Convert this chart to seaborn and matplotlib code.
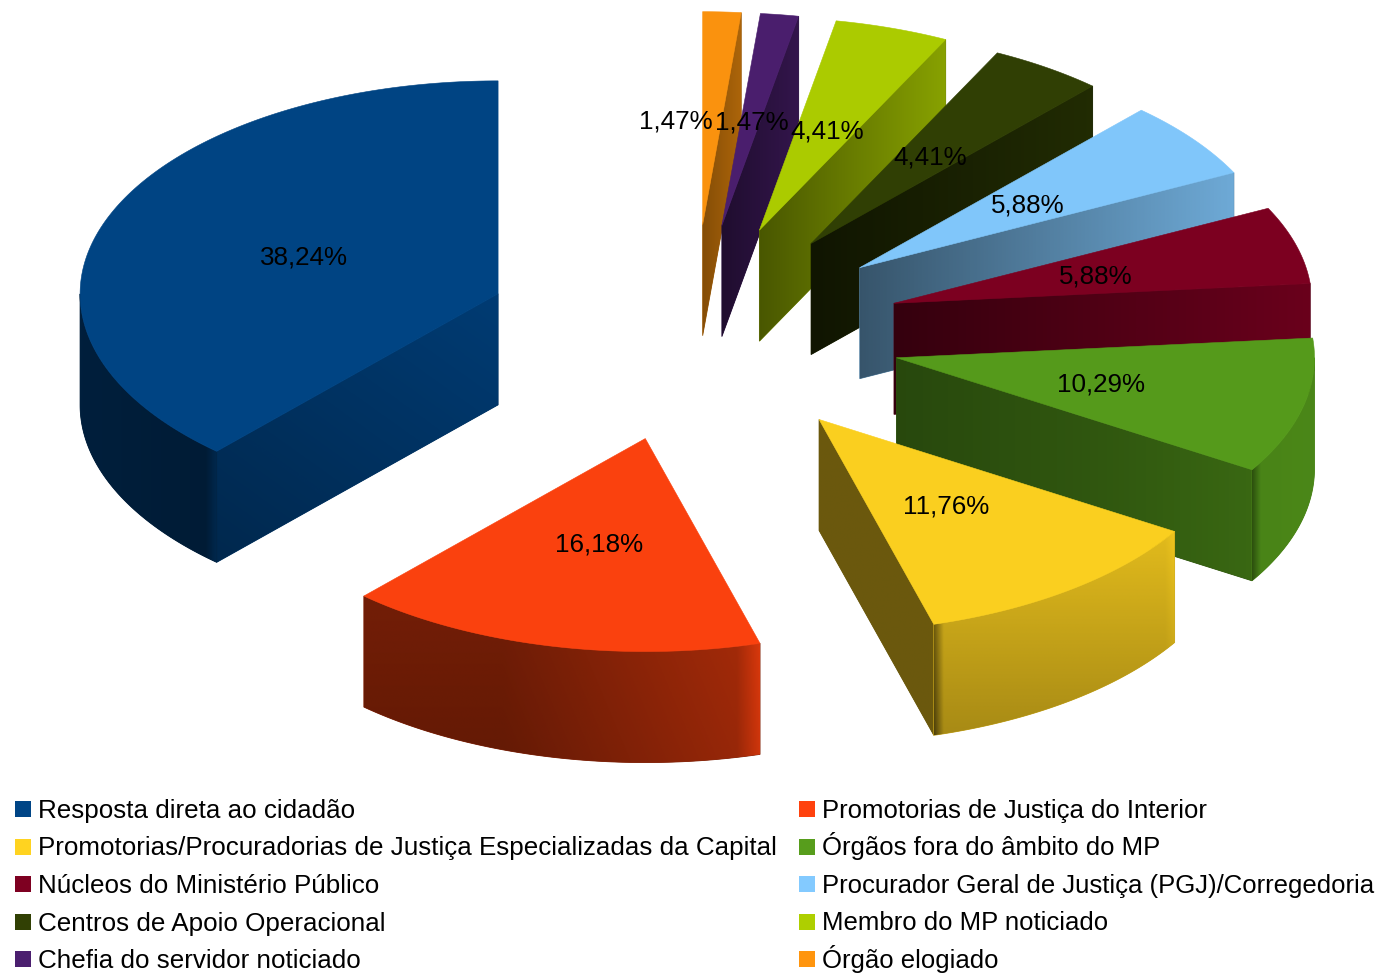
import numpy as np
import matplotlib
matplotlib.use("Agg")
import matplotlib.pyplot as plt
from matplotlib.patches import Polygon, Rectangle
import seaborn as sns

categories = ["Resposta direta ao cidadão", "Promotorias de Justiça do Interior",
              "Promotorias/Procuradorias de Justiça Especializadas da Capital", "Órgãos fora do âmbito do MP",
              "Núcleos do Ministério Público", "Procurador Geral de Justiça (PGJ)/Corregedoria",
              "Centros de Apoio Operacional", "Membro do MP noticiado",
              "Chefia do servidor noticiado", "Órgão elogiado"]
values = [38.24, 16.18, 11.76, 10.29, 5.88, 5.88, 4.41, 4.41, 1.47, 1.47]
labels = ["38,24%", "16,18%", "11,76%", "10,29%", "5,88%", "5,88%", "4,41%", "4,41%", "1,47%", "1,47%"]
colors = ["#004586", "#ff420e", "#ffd320", "#579d1c", "#7e0021",
          "#83caff", "#314004", "#aecf00", "#4b1f6f", "#ff950e"]

# Projection / style
CX, CY, RX, RY, DEPTH = 693, 333, 418, 213, 111
EXPLODE_X, EXPLODE_Y = 0.5, 0.509
LABEL_SHIFT = {9: (-36, 3)}
TOP = 0.98
# shade stops over the x-extent of each wall: (position, brightness), plus a drop over its height
radial_shade = {0: ([(0, .66), (1, .78)], .16), 2: ([(0, .42), (1, .42)], 0),
                3: ([(0, .46), (.6, .56), (1, .66)], 0), 4: ([(0, .42), (1, .84)], 0),
                5: ([(0, .42), (1, .84)], 0), 6: ([(0, .33), (1, .68)], 0),
                7: ([(0, .42), (1, .78)], 0), 8: ([(0, .42), (1, .68)], 0),
                9: ([(0, .52), (1, .68)], 0)}
outer_shade = {0: ([(0, .45), (.92, .40), (1, .58)], 0),
               1: ([(0, .42), (.35, .42), (.94, .62), (1, .84)], .06),
               2: ([(0, .42), (.04, .77), (.96, .77), (1, .82)], .23),
               3: ([(0, .50), (.14, .84), (1, .86)], 0)}

sns.set_theme(style="white")
plt.rcParams["font.family"] = ["Liberation Sans", "DejaVu Sans"]

fig = plt.figure(figsize=(13.78, 9.75), dpi=100, facecolor="white")
ax = fig.add_axes([0, 0, 1, 1])
ax.set_axis_off()


def shaded(points, style, color):
    stops, drop = style
    cmap = sns.blend_palette(["#000000", color], n_colors=256, as_cmap=True)
    pts = np.asarray(points)
    x0, x1 = pts[:, 0].min(), pts[:, 0].max()
    y0, y1 = pts[:, 1].min(), pts[:, 1].max()
    if x1 - x0 < 0.5:
        return
    fx, fy = np.meshgrid(np.linspace(0, 1, 512), np.linspace(0, 1, 256))
    shade = np.interp(fx, [s[0] for s in stops], [s[1] for s in stops]) - drop * (fy - 0.5)
    base = cmap(float(shade.mean()))
    ax.add_patch(Polygon(pts, closed=True, facecolor=base, edgecolor=base, lw=0.6, zorder=2))
    im = ax.imshow(cmap(np.clip(shade, 0, 1)), extent=(x0, x1, y1, y0), aspect="auto",
                   interpolation="bilinear", zorder=2)
    im.set_clip_path(Polygon(pts, closed=True, transform=ax.transData))


def rim(theta, ox, oy, scale=1.0):
    return ox + scale * RX * np.cos(theta), oy - scale * RY * np.sin(theta)


ends = np.pi / 2 + 2 * np.pi * np.cumsum(values) / np.sum(values)
starts = np.concatenate([[np.pi / 2], ends[:-1]])
for i in range(len(values) - 1, -1, -1):
    t0, t1 = starts[i], ends[i]
    mid = (t0 + t1) / 2
    ox = CX + EXPLODE_X * RX * np.cos(mid)
    oy = CY - EXPLODE_Y * RY * np.sin(mid)
    # radial wall facing the viewer
    for edge, normal in ((t1, t1 + np.pi / 2), (t0, t0 - np.pi / 2)):
        if np.sin(normal) < -1e-6:
            x, y = rim(edge, ox, oy)
            shaded([(ox, oy), (x, y), (x, y + DEPTH), (ox, oy + DEPTH)], radial_shade[i], colors[i])
    # outer wall: the part of the rim that faces the viewer
    lo = max(t0, np.pi)
    hi = min(t1, 2 * np.pi)
    if i == 3:
        lo, hi = t0, 2 * np.pi
    if hi > lo and i in outer_shade:
        th = np.linspace(lo, hi, 120)
        xs, ys = rim(th, ox, oy)
        shaded(np.vstack([np.column_stack([xs, ys]), np.column_stack([xs, ys + DEPTH])[::-1]]),
               outer_shade[i], colors[i])
    # top face
    th = np.linspace(t0, t1, 160)
    xs, ys = rim(th, ox, oy)
    top = sns.blend_palette(["#000000", colors[i]], n_colors=101)[int(TOP * 100)]
    ax.add_patch(Polygon(np.column_stack([np.r_[ox, xs], np.r_[oy, ys]]), closed=True,
                         facecolor=top, edgecolor=top, lw=0.4, zorder=2))
    lx, ly = rim(mid, ox, oy, 0.5)
    dx, dy = LABEL_SHIFT.get(i, (1, 2))
    ax.text(lx + dx, ly + dy, labels[i], ha="center", va="center", fontsize=18.7, color="black", zorder=5)

# Legend: two columns, ten entries, evenly spaced rows
LEG_X = (15, 799)
LEG_FONT = (18.74, 18.52)
LEG_Y0, LEG_STEP, LEG_BOX = 809, 37.5, 16
for k, (name, col) in enumerate(zip(categories, colors)):
    row, column = k // 2, k % 2
    yc = LEG_Y0 + row * LEG_STEP
    ax.add_patch(Rectangle((LEG_X[column], yc - LEG_BOX / 2), LEG_BOX, LEG_BOX, facecolor=col,
                           edgecolor="none", zorder=3))
    ax.text(LEG_X[column] + LEG_BOX + 7.5, yc + 9, name, ha="left", va="baseline",
            fontsize=LEG_FONT[column], color="black", zorder=5)

ax.set_xlim(0, 1378)
ax.set_ylim(975, 0)

fig.savefig("out.png", dpi=100, facecolor="white")
